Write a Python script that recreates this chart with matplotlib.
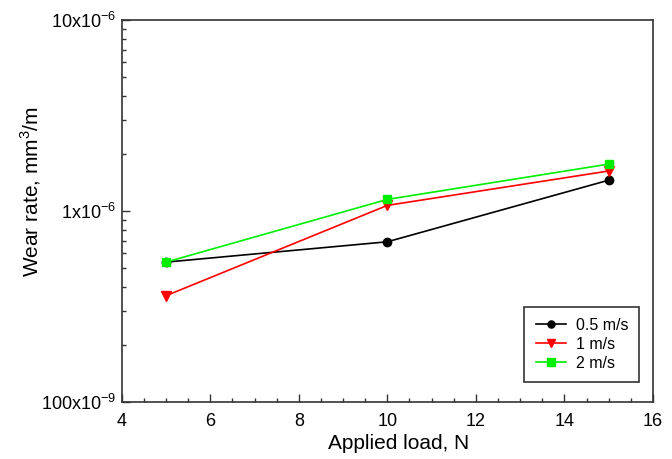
import matplotlib
matplotlib.use('Agg')
import matplotlib.pyplot as plt
from matplotlib.ticker import FixedLocator, LogLocator, MultipleLocator, NullFormatter

plt.rcParams['font.family'] = ['Liberation Sans', 'DejaVu Sans']
plt.rcParams['mathtext.fontset'] = 'custom'
plt.rcParams['mathtext.rm'] = 'Liberation Sans'

# datos
carga = [5, 10, 15]
v05 = [5.4e-7, 6.9e-7, 1.45e-6]
v1 = [3.6e-7, 1.07e-6, 1.62e-6]
v2 = [5.4e-7, 1.15e-6, 1.76e-6]

y_ticks = [1e-7, 1e-6, 1e-5]
y_labels = [r'100x10$^{\mathregular{-9}}$', r'1x10$^{\mathregular{-6}}$', r'10x10$^{\mathregular{-6}}$']

fig = plt.figure(figsize=(6.72, 4.59), dpi=100)
ax = fig.add_axes([121.7/672, 1 - 402/459, (653 - 121.7)/672, (402 - 20)/459])

ax.plot(carga, v05, color='black', marker='o', markersize=6, lw=1.2, label='0.5 m/s')
ax.plot(carga, v1, color='red', marker='v', markersize=6.5, lw=1.2, label='1 m/s')
ax.plot(carga, v2, color='#00ee00', marker='s', markersize=6, lw=1.2, label='2 m/s')

ax.set_yscale('log')
ax.set_ylim(1e-7, 1e-5)
ax.set_xlim(4, 16)
ax.yaxis.set_major_locator(FixedLocator(y_ticks))
ax.set_yticklabels(y_labels)
ax.yaxis.set_minor_locator(LogLocator(base=10, subs=range(2, 10)))
ax.yaxis.set_minor_formatter(NullFormatter())
ax.xaxis.set_major_locator(MultipleLocator(2))
ax.xaxis.set_minor_locator(MultipleLocator(0.5))

ax.tick_params(which='both', direction='in', labelsize=13, width=1, colors='#333333', labelcolor='black')
ax.tick_params(which='major', length=6)
ax.tick_params(which='minor', length=3)
ax.tick_params(axis='x', pad=8)
ax.tick_params(axis='y', pad=4)
for s in ax.spines.values():
    s.set_color('#333333')
    s.set_linewidth(1.2)

ax.set_xlabel('Applied load, N', fontsize=15)
ax.set_ylabel('Wear rate, mm$^{\\mathregular{3}}$/m', fontsize=15)
ax.xaxis.set_label_coords(0.522, -0.085)
ax.yaxis.set_label_coords(-0.148, 0.55)

leg = ax.legend(loc='lower right', bbox_to_anchor=(0.974, 0.052), borderaxespad=0,
                fontsize=11.5, fancybox=False, edgecolor='#333333', framealpha=1,
                handlelength=1.9, borderpad=0.7, labelspacing=0.25, markerscale=0.85,
                handletextpad=0.6)
leg.get_frame().set_linewidth(1.2)

fig.savefig('out.png', dpi=100)
